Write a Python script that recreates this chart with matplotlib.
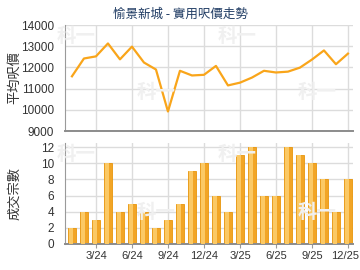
import matplotlib
matplotlib.use('Agg')
import matplotlib.pyplot as plt
import matplotlib.transforms as mtransforms

# Data (Jan 2024 - Dec 2025)
months = list(range(24))
avg_price = [11580, 12420, 12520, 13130, 12380, 12980, 12230, 11900,
             9920, 11840, 11620, 11650, 12070, 11150, 11280, 11520,
             11840, 11760, 11800, 11990, 12370, 12800, 12150, 12650]
deals = [2, 4, 3, 10, 4, 5, 4, 2, 3, 5, 9, 10,
         6, 4, 11, 12, 6, 6, 12, 11, 10, 8, 4, 8]
tick_pos = [2, 5, 8, 11, 14, 17, 20, 23]
tick_labels = ['3/24', '6/24', '9/24', '12/24', '3/25', '6/25', '9/25', '12/25']

title = '愉景新城 - 實用呎價走勢'
price_label = '平均呎價'
deals_label = '成交宗數'

plt.rcParams['font.family'] = ['Liberation Sans', 'Noto Sans CJK TC', 'DejaVu Sans']
cjk = ['Noto Sans CJK TC', 'DejaVu Sans']

fig = plt.figure(figsize=(3.6, 2.7), dpi=100)
W, H = 360, 270

def box(x0, y0, x1, y1):
    # pixel box (top-left origin) -> figure fraction rect
    return [x0 / W, 1 - y1 / H, (x1 - x0) / W, (y1 - y0) / H]

ax1 = fig.add_axes(box(65, 25, 353, 131))
ax2 = fig.add_axes(box(65, 143, 353, 244))

# faint watermarks
for (px, py) in [(76, 36), (237, 36), (156, 92), (317, 92),
                 (76, 155), (237, 155), (156, 212), (317, 212)]:
    fig.text(px / W, 1 - py / H, '科一', family=cjk, fontsize=14, fontweight='bold',
             color='#F0F0F0', ha='center', va='center', zorder=0)

grid_c = '#DCDCDC'
spine_c = '#9A9A9A'
for ax in (ax1, ax2):
    ax.set_facecolor('none')
    ax.set_xlim(-0.58, 23.42)
    ax.set_xticks(tick_pos)
    ax.grid(True, color=grid_c, linewidth=1.0, zorder=1)
    ax.set_axisbelow(True)
    for s in ('top', 'right'):
        ax.spines[s].set_visible(False)
    ax.spines['left'].set_color(spine_c)
    ax.spines['bottom'].set_color('#8C8C8C')
    ax.spines['bottom'].set_linewidth(1.4)
    ax.tick_params(axis='y', length=0, labelsize=8.5, colors='#333333', pad=8)

# price line
ax1.plot(months, avg_price, color='#F9A51A', linewidth=1.6, zorder=3)
ax1.set_ylim(9000, 14000)
ax1.set_yticks([9000, 10000, 11000, 12000, 13000, 14000])
ax1.tick_params(axis='x', length=0, labelbottom=False)
ax1.set_ylabel(price_label, family=cjk, fontsize=9.5, color='#333333')

# deals bars with simple shading
ax2.bar(months, deals, width=0.68, color='#F2A526', edgecolor='#E8960C', linewidth=0.6, zorder=2)
ax2.bar([m - 0.08 for m in months], deals, width=0.26, color='#FBC965', linewidth=0, zorder=3)
ax2.set_ylim(0, 12.5)
ax2.set_yticks(range(0, 13, 2))
ax2.set_xticklabels(tick_labels)
ax2.tick_params(axis='x', length=3, color=spine_c, labelsize=8, colors='#333333', pad=2)
ax2.set_ylabel(deals_label, family=cjk, fontsize=9.5, color='#333333')

# nudge the last tick label so it stays inside the figure
last = ax2.get_xticklabels()[-1]
last.set_transform(last.get_transform() + mtransforms.ScaledTranslation(-3 / 100, 0, fig.dpi_scale_trans))

fig.text(0.5, 1 - 14 / H, title, family=cjk, fontsize=9, color='#1F3B63',
         ha='center', va='center')

ax1.yaxis.set_label_coords(-44 / 288, 0.5)
ax2.yaxis.set_label_coords(-44 / 288, 0.5)

fig.savefig('out.png', dpi=100)
